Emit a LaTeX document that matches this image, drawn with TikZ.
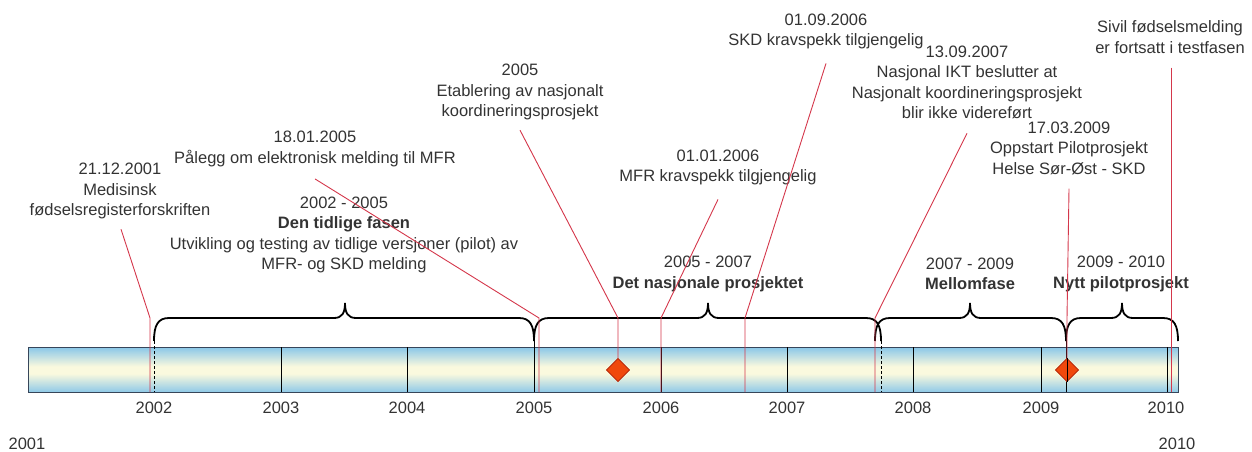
\documentclass[tikz,border=0pt]{standalone}
\usepackage{fontspec}
\setmainfont{Liberation Sans}
\usetikzlibrary{calc,shapes.geometric}

\definecolor{txt}{HTML}{333333}
\definecolor{evred}{RGB}{212,55,75}
\definecolor{barblue}{RGB}{140,200,232}
\definecolor{barcream}{RGB}{250,249,222}
\definecolor{barline}{RGB}{55,70,90}
\definecolor{msfill}{RGB}{240,72,12}
\definecolor{msline}{RGB}{185,45,15}

% blue - cream - blue band for the time bar
\pgfdeclareverticalshading{barshade}{100bp}{color(0bp)=(barblue); color(25bp)=(barblue);
  color(46bp)=(barcream); color(54bp)=(barcream); color(75bp)=(barblue); color(100bp)=(barblue)}

% curly bracket over a phase: left x, right x, tip x
\newcommand\phasebrace[3]{%
  \draw[bracestyle] (#1,341) .. controls (#1,325) and (#1+4,318) .. (#1+15,318)
    -- (#3-11,318) .. controls (#3-3,318) and (#3,313) .. (#3,303)
    .. controls (#3,313) and (#3+3,318) .. (#3+11,318)
    -- (#2-15,318) .. controls (#2-4,318) and (#2,325) .. (#2,341);}

\begin{document}
\begin{tikzpicture}[x=1pt,y=-1pt,
  font=\fontsize{16.5}{20.5}\selectfont,
  every node/.style={text=txt, inner sep=0pt},
  event/.style={align=center},
  phase/.style={align=center},
  yearlab/.style={},
  evline/.style={draw=evred, line width=0.9pt},
  yearline/.style={draw=black, line width=0.9pt},
  divdash/.style={draw=black, line width=0.9pt, dash pattern=on 3pt off 2pt},
  bracestyle/.style={draw=black, line width=1.8pt},
  milestone/.style={diamond, draw=msline, fill=msfill, line width=0.6pt,
    minimum width=23pt, minimum height=23pt, inner sep=0pt},
  timebar/.style={draw=barline, line width=1.1pt, shading=barshade,
    minimum width=1150pt, minimum height=45pt, inner sep=0pt}]
\useasboundingbox (0,0) rectangle (1252,452);

% time bar
\node[timebar, anchor=north west] (bar) at (28,347) {};

% year dividers
\foreach \x in {281,407,661,787,913,1041,1167}
  \draw[yearline] (\x,347) -- (\x,392);
\foreach \x in {534,1066}
  \draw[yearline] (\x,341) -- (\x,392);
\foreach \x in {154,881}
  \draw[divdash] (\x,341) -- (\x,392);

% year labels
\node[yearlab] (y2002) at (154,408) {2002};
\node[yearlab] (y2003) at (281,408) {2003};
\node[yearlab] (y2004) at (407,408) {2004};
\node[yearlab] (y2005) at (534,408) {2005};
\node[yearlab] (y2006) at (661,408) {2006};
\node[yearlab] (y2007) at (787,408) {2007};
\node[yearlab] (y2008) at (913,408) {2008};
\node[yearlab] (y2009) at (1041,408) {2009};
\node[yearlab] (y2010) at (1166,408) {2010};
\node[yearlab] (start) at (27,444) {2001};
\node[yearlab] (end) at (1177,444) {2010};

% phase brackets
\phasebrace{154}{534}{345}
\phasebrace{534}{881}{708}
\phasebrace{875}{1066}{970}
\phasebrace{1066}{1178}{1122}

% phase texts
\node[phase] (p1) at (344,235) {2002 - 2005\\\textbf{Den tidlige fasen}\\Utvikling og testing av tidlige versjoner (pilot) av\\MFR- og SKD melding};
\node[phase] (p2) at (708,274) {2005 - 2007\\\textbf{Det nasjonale prosjektet}};
\node[phase] (p3) at (970,274) {2007 - 2009\\\textbf{Mellomfase}};
\node[phase] (p4) at (1121,274) {2009 - 2010\\\textbf{Nytt pilotprosjekt}};

% event texts
\node[event] (e1) at (120,191) {21.12.2001\\Medisinsk\\fødselsregisterforskriften};
\node[event] (e2) at (315,149) {18.01.2005\\Pålegg om elektronisk melding til MFR};
\node[event] (e3) at (520,92) {2005\\Etablering av nasjonalt\\koordineringsprosjekt};
\node[event] (e4) at (718,167.5) {01.01.2006\\MFR kravspekk tilgjengelig};
\node[event] (e5) at (826,31.5) {01.09.2006\\SKD kravspekk tilgjengelig};
\node[event] (e6) at (967,82.5) {13.09.2007\\Nasjonal IKT beslutter at\\Nasjonalt koordineringsprosjekt\\blir ikke videreført};
\node[event] (e7) at (1069,148) {17.03.2009\\Oppstart Pilotprosjekt\\Helse Sør-Øst - SKD};
\node[event] (e8) at (1170,37) {Sivil fødselsmelding\\er fortsatt i testfasen};

% milestones on the bar
\node[milestone] (m1) at (618,370) {};
\node[milestone] (m2) at (1067,370) {};

% event connectors
\coordinate (b1) at (150,392);
\coordinate (b2) at (539,392);
\coordinate (b4) at (661,392);
\coordinate (b5) at (745,392);
\coordinate (b6) at (875,392);
\coordinate (b8) at (1171,392);
\draw[evline] ($(e1.south)+(1,10)$) -- (150,318) -- (b1);
\draw[evline] ($(e2.south)+(0,12)$) -- (539,318) -- (b2);
\draw[evline] ($(e3.south)+(0,10)$) -- (618,318) -- (m1.north);
\draw[evline] ($(e4.south)+(0,14)$) -- (661,318) -- (b4);
\draw[evline] ($(e5.south)+(0,14)$) -- (745,318) -- (b5);
\draw[evline] ($(e6.south)+(0,14)$) -- (875,318) -- (b6);
\draw[evline] ($(e7.south)+(0,14)$) -- (1067,318) -- (m2.north);
\draw[evline] ($(e8.south)+(1,14)$) -- (b8);

% redraw milestones above their connectors
\node[milestone] at (m1) {};
\node[milestone] at (m2) {};
\draw[yearline] (m2.north) -- (m2.south);
\end{tikzpicture}
\end{document}
